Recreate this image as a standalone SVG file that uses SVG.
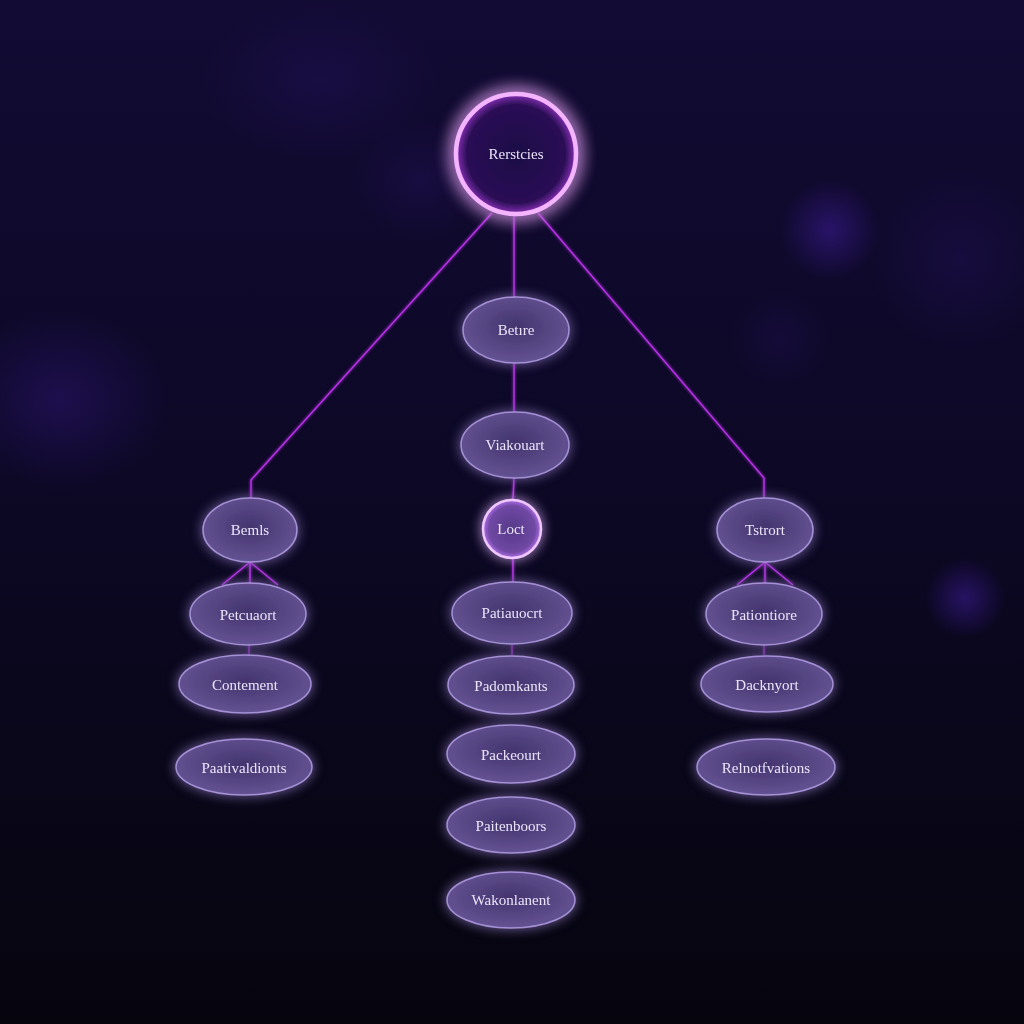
<svg xmlns="http://www.w3.org/2000/svg" width="1024" height="1024" viewBox="0 0 1024 1024">
<defs>
<linearGradient id="bg" x1="0" y1="0" x2="0" y2="1">
<stop offset="0" stop-color="#120b34"/>
<stop offset="0.5" stop-color="#0c0824"/>
<stop offset="1" stop-color="#06050e"/>
</linearGradient>
<radialGradient id="blob"><stop offset="0" stop-color="#3a1a90" stop-opacity="0.6"/><stop offset="1" stop-color="#3a1a90" stop-opacity="0"/></radialGradient>
<radialGradient id="nodeFill" cx="0.5" cy="0.45" r="0.6">
<stop offset="0" stop-color="#43346e"/>
<stop offset="1" stop-color="#675696"/>
</radialGradient>
<radialGradient id="topFill" cx="0.5" cy="0.5" r="0.5">
<stop offset="0" stop-color="#1c0c48"/>
<stop offset="0.82" stop-color="#2a0f55"/>
<stop offset="1" stop-color="#8a30b8"/>
</radialGradient>
<radialGradient id="lootFill" cx="0.5" cy="0.5" r="0.5">
<stop offset="0" stop-color="#553a88"/>
<stop offset="0.8" stop-color="#7048a4"/>
<stop offset="1" stop-color="#b070e8"/>
</radialGradient>
<filter id="glow" x="-40%" y="-40%" width="180%" height="180%">
<feGaussianBlur stdDeviation="6" result="b"/>
<feMerge><feMergeNode in="b"/><feMergeNode in="SourceGraphic"/></feMerge>
</filter>
<filter id="bigglow" x="-60%" y="-60%" width="220%" height="220%">
<feGaussianBlur stdDeviation="9" result="b"/>
<feMerge><feMergeNode in="b"/><feMergeNode in="b"/><feMergeNode in="SourceGraphic"/></feMerge>
</filter>
<filter id="lglow" x="-20%" y="-20%" width="140%" height="140%">
<feGaussianBlur stdDeviation="1.5" result="b"/>
<feMerge><feMergeNode in="b"/><feMergeNode in="SourceGraphic"/></feMerge>
</filter>
</defs>
<style>
.n ellipse{fill:url(#nodeFill);stroke:#b49ee6;stroke-opacity:0.85;stroke-width:1.5;filter:url(#glow)}
.t{font-family:"Liberation Serif","DejaVu Serif",serif;font-size:15px;fill:#ece4fa;text-anchor:middle;dominant-baseline:central}
.c{stroke:#b830e8;stroke-width:1.5;fill:none}
</style>
<rect width="1024" height="1024" fill="url(#bg)"/>
<ellipse cx="830" cy="230" rx="50" ry="50" fill="url(#blob)"/>
<ellipse cx="60" cy="400" rx="110" ry="90" fill="url(#blob)" opacity="0.6"/>
<ellipse cx="965" cy="598" rx="40" ry="40" fill="url(#blob)"/>
<ellipse cx="320" cy="80" rx="120" ry="80" fill="url(#blob)" opacity="0.3"/>
<ellipse cx="420" cy="180" rx="70" ry="60" fill="url(#blob)" opacity="0.3"/>
<ellipse cx="960" cy="260" rx="90" ry="90" fill="url(#blob)" opacity="0.3"/>
<ellipse cx="780" cy="340" rx="50" ry="50" fill="url(#blob)" opacity="0.25"/>
<g id="connectors" filter="url(#lglow)">
<path class="c" d="M492 213 L251 480 L251 498"/>
<path class="c" d="M514 215 L514 298"/>
<path class="c" d="M538 213 L764 478 L764 498"/>
<path class="c" d="M514 363 L514 412"/>
<path class="c" d="M514 478 L513 500"/>
<path class="c" d="M513 558 L513 582"/>
<path class="c" d="M250 562 L222 585 M250 562 L250 585 M250 562 L278 585"/>
<path class="c" d="M765 562 L737 585 M765 562 L765 585 M765 562 L793 585"/>
<path class="c" d="M249 645 L249 655" opacity="0.6"/>
<path class="c" d="M512 645 L512 655" opacity="0.6"/>
<path class="c" d="M764 645 L764 655" opacity="0.6"/>
</g>
<g id="root">
<circle cx="516" cy="154" r="60" fill="url(#topFill)" stroke="#f4b4ff" stroke-width="4.5" filter="url(#bigglow)"/>
<text class="t" x="516" y="154">Rerstcies</text>
</g>
<g id="bettre" class="n"><ellipse cx="516" cy="330" rx="53" ry="33"/><text class="t" x="516" y="330">Betıre</text></g>
<g id="viatuourt" class="n"><ellipse cx="515" cy="445" rx="54" ry="33"/><text class="t" x="515" y="445">Viakouart</text></g>
<g id="loot">
<circle cx="512" cy="529" r="29" fill="url(#lootFill)" stroke="#f0c8ff" stroke-width="2.5" filter="url(#glow)"/>
<text class="t" x="511" y="529">Loct</text>
</g>
<g id="pattauocort" class="n"><ellipse cx="512" cy="613" rx="60" ry="31"/><text class="t" x="512" y="613">Patiauocrt</text></g>
<g id="padomkants" class="n"><ellipse cx="511" cy="685" rx="63" ry="29"/><text class="t" x="511" y="686">Padomkants</text></g>
<g id="packeourt" class="n"><ellipse cx="511" cy="754" rx="64" ry="29"/><text class="t" x="511" y="755">Packeourt</text></g>
<g id="paitenboors" class="n"><ellipse cx="511" cy="825" rx="64" ry="28"/><text class="t" x="511" y="826">Paitenboors</text></g>
<g id="wakonlanent" class="n"><ellipse cx="511" cy="900" rx="64" ry="28"/><text class="t" x="511" y="900">Wakonlanent</text></g>
<g id="bemls" class="n"><ellipse cx="250" cy="530" rx="47" ry="32"/><text class="t" x="250" y="530">Bemls</text></g>
<g id="petcuaort" class="n"><ellipse cx="248" cy="614" rx="58" ry="31"/><text class="t" x="248" y="615">Petcuaort</text></g>
<g id="contement" class="n"><ellipse cx="245" cy="684" rx="66" ry="29"/><text class="t" x="245" y="685">Contement</text></g>
<g id="paativaldionts" class="n"><ellipse cx="244" cy="767" rx="68" ry="28"/><text class="t" x="244" y="768">Paativaldionts</text></g>
<g id="tetrort" class="n"><ellipse cx="765" cy="530" rx="48" ry="32"/><text class="t" x="765" y="530">Tstrort</text></g>
<g id="pationtiore" class="n"><ellipse cx="764" cy="614" rx="58" ry="31"/><text class="t" x="764" y="615">Pationtiore</text></g>
<g id="dacknyort" class="n"><ellipse cx="767" cy="684" rx="66" ry="28"/><text class="t" x="767" y="685">Dacknyort</text></g>
<g id="relatotvations" class="n"><ellipse cx="766" cy="767" rx="69" ry="28"/><text class="t" x="766" y="768">Relnotfvations</text></g>
</svg>
